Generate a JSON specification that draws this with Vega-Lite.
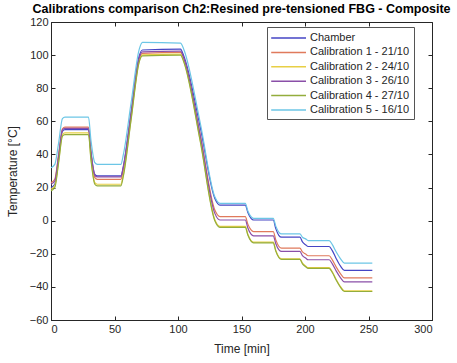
{
  "$schema": "https://vega.github.io/schema/vega-lite/v6.json",
  "autosize": "none",
  "width": 381,
  "height": 298,
  "padding": {"left": 51, "top": 22, "right": 25, "bottom": 43},
  "background": "white",
  "title": {"text": "Calibrations comparison Ch2:Resined pre-tensioned FBG - Composite", "font": "Liberation Sans", "fontSize": 12.5, "fontWeight": "bold", "color": "#000000", "anchor": "middle", "offset": 0, "baseline": "bottom", "dy": 12},
  "config": {
    "view": {"stroke": "#262626", "strokeWidth": 1},
    "axis": {"labelFont": "Liberation Sans", "titleFont": "Liberation Sans", "labelFontSize": 11, "titleFontSize": 12, "labelColor": "#262626", "titleColor": "#262626", "titleFontWeight": "normal", "gridColor": "#e3e3e3", "domainColor": "#262626", "tickColor": "#262626", "tickSize": -4}
  },
  "data": {"values": [
    {"t":0,"Chamber":20,"Calibration 1 - 21/10":23,"Calibration 2 - 24/10":19,"Calibration 3 - 26/10":22,"Calibration 4 - 27/10":18,"Calibration 5 - 16/10":32},
    {"t":3,"Chamber":22,"Calibration 1 - 21/10":25,"Calibration 2 - 24/10":21,"Calibration 3 - 26/10":24,"Calibration 4 - 27/10":20,"Calibration 5 - 16/10":34},
    {"t":6,"Chamber":38,"Calibration 1 - 21/10":40,"Calibration 2 - 24/10":36,"Calibration 3 - 26/10":39,"Calibration 4 - 27/10":35,"Calibration 5 - 16/10":47},
    {"t":9,"Chamber":54,"Calibration 1 - 21/10":55.5,"Calibration 2 - 24/10":52,"Calibration 3 - 26/10":54.8,"Calibration 4 - 27/10":51,"Calibration 5 - 16/10":61.6},
    {"t":11,"Chamber":55,"Calibration 1 - 21/10":56.5,"Calibration 2 - 24/10":53,"Calibration 3 - 26/10":55.8,"Calibration 4 - 27/10":52,"Calibration 5 - 16/10":62.6},
    {"t":29.5,"Chamber":55,"Calibration 1 - 21/10":56.5,"Calibration 2 - 24/10":53,"Calibration 3 - 26/10":55.8,"Calibration 4 - 27/10":52,"Calibration 5 - 16/10":62.6},
    {"t":31.5,"Chamber":41,"Calibration 1 - 21/10":40.8,"Calibration 2 - 24/10":37.5,"Calibration 3 - 26/10":41.1,"Calibration 4 - 27/10":36.5,"Calibration 5 - 16/10":48.3},
    {"t":34.5,"Chamber":28,"Calibration 1 - 21/10":26,"Calibration 2 - 24/10":23,"Calibration 3 - 26/10":27.4,"Calibration 4 - 27/10":22,"Calibration 5 - 16/10":35},
    {"t":36.5,"Chamber":27,"Calibration 1 - 21/10":25,"Calibration 2 - 24/10":22,"Calibration 3 - 26/10":26.4,"Calibration 4 - 27/10":21,"Calibration 5 - 16/10":34},
    {"t":55,"Chamber":27,"Calibration 1 - 21/10":25,"Calibration 2 - 24/10":22,"Calibration 3 - 26/10":26.4,"Calibration 4 - 27/10":21,"Calibration 5 - 16/10":34},
    {"t":57,"Chamber":33,"Calibration 1 - 21/10":31,"Calibration 2 - 24/10":28,"Calibration 3 - 26/10":32.4,"Calibration 4 - 27/10":27,"Calibration 5 - 16/10":40},
    {"t":63,"Chamber":65.3,"Calibration 1 - 21/10":63.3,"Calibration 2 - 24/10":61.3,"Calibration 3 - 26/10":64.4,"Calibration 4 - 27/10":60.5,"Calibration 5 - 16/10":70.8},
    {"t":69.5,"Chamber":99.6,"Calibration 1 - 21/10":97.6,"Calibration 2 - 24/10":96.6,"Calibration 3 - 26/10":98.4,"Calibration 4 - 27/10":96,"Calibration 5 - 16/10":103.6},
    {"t":72,"Chamber":103.1,"Calibration 1 - 21/10":101.1,"Calibration 2 - 24/10":100.1,"Calibration 3 - 26/10":101.9,"Calibration 4 - 27/10":99.5,"Calibration 5 - 16/10":107.7},
    {"t":102,"Chamber":103.6,"Calibration 1 - 21/10":101.6,"Calibration 2 - 24/10":100.6,"Calibration 3 - 26/10":102.4,"Calibration 4 - 27/10":100,"Calibration 5 - 16/10":107.2},
    {"t":104.5,"Chamber":99.6,"Calibration 1 - 21/10":97.6,"Calibration 2 - 24/10":96.6,"Calibration 3 - 26/10":98.4,"Calibration 4 - 27/10":96,"Calibration 5 - 16/10":103.6},
    {"t":117.5,"Chamber":56.5,"Calibration 1 - 21/10":52,"Calibration 2 - 24/10":48.6,"Calibration 3 - 26/10":51.4,"Calibration 4 - 27/10":48,"Calibration 5 - 16/10":59},
    {"t":129,"Chamber":13.4,"Calibration 1 - 21/10":6.4,"Calibration 2 - 24/10":0.6,"Calibration 3 - 26/10":4.4,"Calibration 4 - 27/10":0,"Calibration 5 - 16/10":14.4},
    {"t":133,"Chamber":9.4,"Calibration 1 - 21/10":2.4,"Calibration 2 - 24/10":-3.4,"Calibration 3 - 26/10":0.4,"Calibration 4 - 27/10":-4,"Calibration 5 - 16/10":10.4},
    {"t":153,"Chamber":9.4,"Calibration 1 - 21/10":2.4,"Calibration 2 - 24/10":-3.4,"Calibration 3 - 26/10":0.4,"Calibration 4 - 27/10":-4,"Calibration 5 - 16/10":10.4},
    {"t":155,"Chamber":4.9,"Calibration 1 - 21/10":-2.1,"Calibration 2 - 24/10":-8.2,"Calibration 3 - 26/10":-4.4,"Calibration 4 - 27/10":-8.7,"Calibration 5 - 16/10":5.9},
    {"t":157.5,"Chamber":1.4,"Calibration 1 - 21/10":-5.6,"Calibration 2 - 24/10":-12,"Calibration 3 - 26/10":-8.2,"Calibration 4 - 27/10":-12.4,"Calibration 5 - 16/10":2.4},
    {"t":159.5,"Chamber":0.4,"Calibration 1 - 21/10":-6.6,"Calibration 2 - 24/10":-13,"Calibration 3 - 26/10":-9.2,"Calibration 4 - 27/10":-13.4,"Calibration 5 - 16/10":1.4},
    {"t":175,"Chamber":0.4,"Calibration 1 - 21/10":-6.6,"Calibration 2 - 24/10":-13,"Calibration 3 - 26/10":-9.2,"Calibration 4 - 27/10":-13.4,"Calibration 5 - 16/10":1.4},
    {"t":177,"Chamber":-4.8,"Calibration 1 - 21/10":-11.6,"Calibration 2 - 24/10":-18,"Calibration 3 - 26/10":-13.9,"Calibration 4 - 27/10":-18.4,"Calibration 5 - 16/10":-3.3},
    {"t":179.5,"Chamber":-9,"Calibration 1 - 21/10":-15.6,"Calibration 2 - 24/10":-22,"Calibration 3 - 26/10":-17.6,"Calibration 4 - 27/10":-22.4,"Calibration 5 - 16/10":-7},
    {"t":181.5,"Chamber":-10,"Calibration 1 - 21/10":-16.6,"Calibration 2 - 24/10":-23,"Calibration 3 - 26/10":-18.6,"Calibration 4 - 27/10":-23.4,"Calibration 5 - 16/10":-8},
    {"t":196,"Chamber":-10,"Calibration 1 - 21/10":-16.6,"Calibration 2 - 24/10":-23,"Calibration 3 - 26/10":-18.6,"Calibration 4 - 27/10":-23.4,"Calibration 5 - 16/10":-8},
    {"t":198,"Chamber":-12.8,"Calibration 1 - 21/10":-18.9,"Calibration 2 - 24/10":-25.7,"Calibration 3 - 26/10":-21.1,"Calibration 4 - 27/10":-26.1,"Calibration 5 - 16/10":-10},
    {"t":200.5,"Chamber":-14.6,"Calibration 1 - 21/10":-20.2,"Calibration 2 - 24/10":-27.4,"Calibration 3 - 26/10":-22.6,"Calibration 4 - 27/10":-27.8,"Calibration 5 - 16/10":-11},
    {"t":202.5,"Chamber":-15.6,"Calibration 1 - 21/10":-21.2,"Calibration 2 - 24/10":-28.4,"Calibration 3 - 26/10":-23.6,"Calibration 4 - 27/10":-28.8,"Calibration 5 - 16/10":-12},
    {"t":219,"Chamber":-15.6,"Calibration 1 - 21/10":-21.2,"Calibration 2 - 24/10":-28.4,"Calibration 3 - 26/10":-23.6,"Calibration 4 - 27/10":-28.8,"Calibration 5 - 16/10":-12},
    {"t":221.5,"Chamber":-18.1,"Calibration 1 - 21/10":-23.7,"Calibration 2 - 24/10":-30.9,"Calibration 3 - 26/10":-26.1,"Calibration 4 - 27/10":-31.3,"Calibration 5 - 16/10":-14.5},
    {"t":224.5,"Chamber":-22.8,"Calibration 1 - 21/10":-27.9,"Calibration 2 - 24/10":-35.4,"Calibration 3 - 26/10":-30.3,"Calibration 4 - 27/10":-35.8,"Calibration 5 - 16/10":-18.8},
    {"t":228,"Chamber":-27.5,"Calibration 1 - 21/10":-32.1,"Calibration 2 - 24/10":-39.9,"Calibration 3 - 26/10":-34.5,"Calibration 4 - 27/10":-40.3,"Calibration 5 - 16/10":-23.1},
    {"t":231,"Chamber":-30,"Calibration 1 - 21/10":-34.6,"Calibration 2 - 24/10":-42.4,"Calibration 3 - 26/10":-37,"Calibration 4 - 27/10":-42.8,"Calibration 5 - 16/10":-25.6},
    {"t":253,"Chamber":-30,"Calibration 1 - 21/10":-34.6,"Calibration 2 - 24/10":-42.4,"Calibration 3 - 26/10":-37,"Calibration 4 - 27/10":-42.8,"Calibration 5 - 16/10":-25.6}
  ]},
  "transform": [
    {"fold": ["Chamber","Calibration 1 - 21/10","Calibration 2 - 24/10","Calibration 3 - 26/10","Calibration 4 - 27/10","Calibration 5 - 16/10"], "as": ["series","v"]}
  ],
  "layer": [
    {
      "mark": {"type": "line", "strokeWidth": 0, "opacity": 0},
      "encoding": {
        "x": {"field": "t", "type": "quantitative", "scale": {"domain": [0, 300], "nice": false}, "axis": {"orient": "top", "values": [0,50,100,150,200,250,300], "labels": false, "grid": false, "domain": false, "title": null}},
        "y": {"field": "v", "type": "quantitative", "scale": {"domain": [-60, 120], "nice": false}, "axis": {"orient": "right", "values": [-60,-40,-20,0,20,40,60,80,100,120], "labels": false, "grid": false, "domain": false, "title": null}},
        "detail": {"field": "series"}
      }
    },
    {
      "mark": {"type": "line", "strokeWidth": 1.2, "interpolate": "monotone"},
      "encoding": {
        "x": {"field": "t", "type": "quantitative", "scale": {"domain": [0, 300], "nice": false}, "axis": {"orient": "bottom", "values": [0,50,100,150,200,250,300], "title": "Time [min]", "labelPadding": 7, "titlePadding": 9}},
        "y": {"field": "v", "type": "quantitative", "scale": {"domain": [-60, 120], "nice": false}, "axis": {"orient": "left", "values": [-60,-40,-20,0,20,40,60,80,100,120], "title": "Temperature [°C]", "labelPadding": 7, "titlePadding": 10}},
        "color": {"field": "series", "type": "nominal",
          "scale": {"domain": ["Chamber","Calibration 1 - 21/10","Calibration 2 - 24/10","Calibration 3 - 26/10","Calibration 4 - 27/10","Calibration 5 - 16/10"],
                    "range": ["#4545c4","#e07a5c","#e8cf45","#8a4fa8","#93ad3c","#6cc6e6"]},
          "legend": {"title": null, "orient": "none", "legendX": 216, "legendY": 5, "symbolType": "M-4.8,0H1", "symbolSize": 144, "symbolOffset": 22, "labelOffset": 3, "symbolStrokeWidth": 1.5, "labelFont": "Liberation Sans", "labelFontSize": 11, "labelColor": "#262626", "strokeColor": "#555555", "fillColor": "white", "padding": 4, "rowPadding": 2.4, "labelLimit": 200}
        },
        "order": {"field": "t", "type": "quantitative"}
      }
    }
  ],
  "resolve": {"axis": {"x": "independent", "y": "independent"}}
}
